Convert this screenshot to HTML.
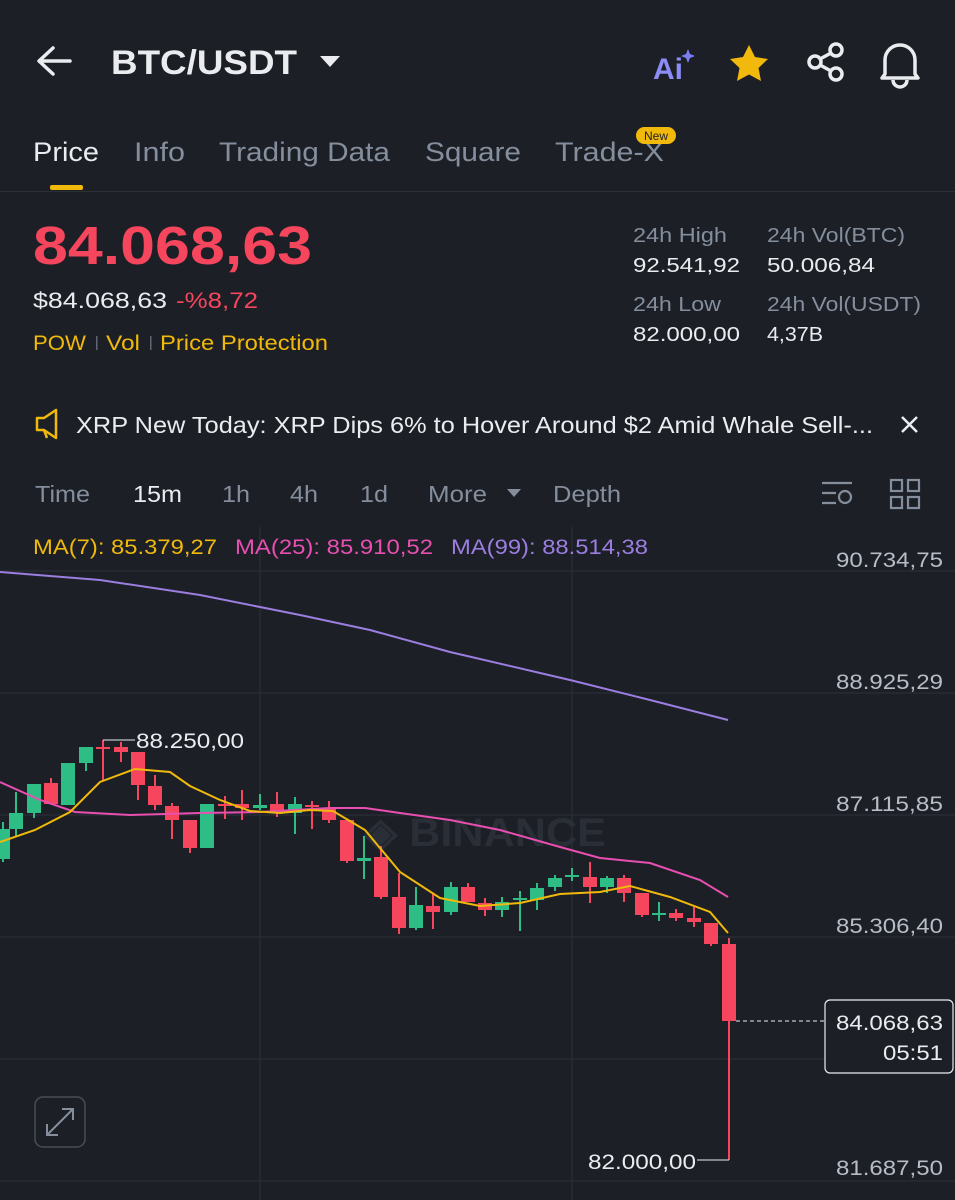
<!DOCTYPE html>
<html><head><meta charset="utf-8"><style>
html,body{margin:0;padding:0;background:#1c1f26;}
svg{display:block;font-family:"Liberation Sans",sans-serif;}
</style></head><body>
<svg width="955" height="1200" viewBox="0 0 955 1200" xmlns="http://www.w3.org/2000/svg">
<rect width="955" height="1200" fill="#1c1f26"/>
<!-- header -->
<path d="M70 61 H40 M53 48 L39 61 L53 74" stroke="#eaecef" stroke-width="3.5" fill="none" stroke-linecap="round" stroke-linejoin="round"/>
<text x="111" y="74" font-size="34" font-weight="bold" fill="#eaecef" textLength="186" lengthAdjust="spacingAndGlyphs">BTC/USDT</text>
<path d="M320 56 L340 56 L330 67 Z" fill="#eaecef"/>
<text x="653" y="79" font-size="30" font-weight="bold" fill="#8b8cf5">Ai</text>
<path d="M688 49 l2 5 5 2 -5 2 -2 5 -2 -5 -5 -2 5 -2z" fill="#7b7ef2"/>
<path d="M749 45 l6 12 13 2 -9.5 9 2.5 13 -12 -6.5 -12 6.5 2.5 -13 -9.5 -9 13 -2z" fill="#f0b90b"/>
<g stroke="#eaecef" stroke-width="3.5" fill="none"><circle cx="815" cy="62" r="6"/><circle cx="836" cy="50" r="6"/><circle cx="836" cy="74" r="6"/><path d="M820 59 L831 53 M820 65 L831 71"/></g>
<path d="M885 74 V60 a15 15 0 0 1 30 0 V74 l3 4 H882 z M893 80 a7 7 0 0 0 14 0" stroke="#eaecef" stroke-width="3.5" fill="none" stroke-linejoin="round"/>
<!-- tabs -->
<g font-size="27" lengthAdjust="spacingAndGlyphs">
<text x="33" y="161" fill="#eaecef" textLength="66" lengthAdjust="spacingAndGlyphs">Price</text>
<text x="134" y="161" fill="#848e9c" textLength="51" lengthAdjust="spacingAndGlyphs">Info</text>
<text x="219" y="161" fill="#848e9c" textLength="171" lengthAdjust="spacingAndGlyphs">Trading Data</text>
<text x="425" y="161" fill="#848e9c" textLength="96" lengthAdjust="spacingAndGlyphs">Square</text>
<text x="555" y="161" fill="#848e9c" textLength="109" lengthAdjust="spacingAndGlyphs">Trade-X</text>
</g>
<rect x="636" y="127" width="40" height="17" rx="8.5" fill="#f0b90b"/>
<text x="656" y="140" font-size="12" fill="#1c1f26" text-anchor="middle">New</text>
<rect x="50" y="185" width="33" height="5" rx="2" fill="#f0b90b"/>
<rect x="0" y="191" width="955" height="1" fill="#2b2f36"/>
<!-- price -->
<text x="33" y="264" font-size="54" font-weight="bold" fill="#f6465d" textLength="279" lengthAdjust="spacingAndGlyphs">84.068,63</text>
<text x="33" y="308" font-size="22" fill="#eaecef" textLength="134" lengthAdjust="spacingAndGlyphs">$84.068,63</text>
<text x="176" y="308" font-size="22" fill="#f6465d" textLength="82" lengthAdjust="spacingAndGlyphs">-%8,72</text>
<g font-size="21" fill="#f0b90b"><text x="33" y="350" textLength="53" lengthAdjust="spacingAndGlyphs">POW</text><text x="106" y="350" textLength="34" lengthAdjust="spacingAndGlyphs">Vol</text><text x="160" y="350" textLength="168" lengthAdjust="spacingAndGlyphs">Price Protection</text></g>
<rect x="96" y="336" width="1.5" height="14" fill="#5e6673"/><rect x="150" y="336" width="1.5" height="14" fill="#5e6673"/>
<g font-size="20">
<text x="633" y="242" fill="#848e9c" textLength="94" lengthAdjust="spacingAndGlyphs">24h High</text><text x="767" y="242" fill="#848e9c" textLength="138" lengthAdjust="spacingAndGlyphs">24h Vol(BTC)</text>
<text x="633" y="272" fill="#eaecef" textLength="107" lengthAdjust="spacingAndGlyphs">92.541,92</text><text x="767" y="272" fill="#eaecef" textLength="108" lengthAdjust="spacingAndGlyphs">50.006,84</text>
<text x="633" y="311" fill="#848e9c" textLength="88" lengthAdjust="spacingAndGlyphs">24h Low</text><text x="767" y="311" fill="#848e9c" textLength="154" lengthAdjust="spacingAndGlyphs">24h Vol(USDT)</text>
<text x="633" y="341" fill="#eaecef" textLength="107" lengthAdjust="spacingAndGlyphs">82.000,00</text><text x="767" y="341" fill="#eaecef" textLength="56" lengthAdjust="spacingAndGlyphs">4,37B</text>
</g>
<!-- news -->
<path d="M37 418 h7 l12 -8 v28 l-12 -8 h-7z M44 430 l3 8" stroke="#f0b90b" stroke-width="2.5" fill="none" stroke-linejoin="round"/>
<text x="76" y="433" font-size="23" fill="#eaecef" textLength="797" lengthAdjust="spacingAndGlyphs">XRP New Today: XRP Dips 6% to Hover Around $2 Amid Whale Sell-...</text>
<path d="M902 417 l15 15 M917 417 l-15 15" stroke="#eaecef" stroke-width="2.5"/>
<!-- intervals -->
<g font-size="23" fill="#848e9c">
<text x="35" y="502" textLength="55" lengthAdjust="spacingAndGlyphs">Time</text><text x="133" y="502" fill="#eaecef" textLength="49" lengthAdjust="spacingAndGlyphs">15m</text><text x="222" y="502" textLength="28" lengthAdjust="spacingAndGlyphs">1h</text><text x="290" y="502" textLength="28" lengthAdjust="spacingAndGlyphs">4h</text><text x="360" y="502" textLength="28" lengthAdjust="spacingAndGlyphs">1d</text><text x="428" y="502" textLength="59" lengthAdjust="spacingAndGlyphs">More</text><text x="553" y="502" textLength="68" lengthAdjust="spacingAndGlyphs">Depth</text>
</g>
<path d="M507 489 h14 l-7 8z" fill="#848e9c"/>
<g stroke="#848e9c" stroke-width="2.2" fill="none"><path d="M822 483 h30 M822 493 h14 M822 503 h14"/><circle cx="845" cy="497" r="6"/>
<rect x="891" y="480" width="11" height="11"/><rect x="908" y="480" width="11" height="11"/><rect x="891" y="497" width="11" height="11"/><rect x="908" y="497" width="11" height="11"/></g>
<!-- grid -->
<g stroke="#2b2f36" stroke-width="1.2">
<path d="M0 571 H955 M0 693 H955 M0 815 H955 M0 937 H955 M0 1059 H955 M0 1181 H955 M260 527 V1200 M572 527 V1200"/>
</g>
<text x="364" y="846" font-size="40" font-weight="bold" fill="#2a2e36" textLength="242" lengthAdjust="spacingAndGlyphs">◈ BINANCE</text>
<g font-size="21">
<text x="33" y="554" fill="#f0b90b" textLength="184" lengthAdjust="spacingAndGlyphs">MA(7): 85.379,27</text>
<text x="235" y="554" fill="#e84fb1" textLength="198" lengthAdjust="spacingAndGlyphs">MA(25): 85.910,52</text>
<text x="451" y="554" fill="#9b7ee0" textLength="197" lengthAdjust="spacingAndGlyphs">MA(99): 88.514,38</text>
</g>
<g font-size="21" fill="#b7bdc6">
<text x="836" y="567" textLength="107" lengthAdjust="spacingAndGlyphs">90.734,75</text><text x="836" y="689" textLength="107" lengthAdjust="spacingAndGlyphs">88.925,29</text><text x="836" y="811" textLength="107" lengthAdjust="spacingAndGlyphs">87.115,85</text><text x="836" y="933" textLength="107" lengthAdjust="spacingAndGlyphs">85.306,40</text><text x="836" y="1055" textLength="107" lengthAdjust="spacingAndGlyphs">83.416,95</text><text x="836" y="1175" textLength="107" lengthAdjust="spacingAndGlyphs">81.687,50</text>
</g>
<!-- MA99 -->
<polyline points="0,572 100,580 200,595 300,615 370,630 450,652 570,680 650,700 728,720" fill="none" stroke="#9b7ee0" stroke-width="2"/>
<!-- candles -->
<g fill="#2ebd85" stroke="#2ebd85" stroke-width="2">
<path d="M3 822V862 M16 792V836 M34 784V818 M68 763V805 M86 747V771 M207 804V848 M260 794V810 M295 797V834 M364 836V879 M416 887V930 M451 882V915 M502 897V917 M520 891V931 M537 883V910 M555 875V891 M572 868V881 M607 876V893 M659 902V921"/>
</g>
<g fill="#2ebd85">
<rect x="-4" y="829" width="14" height="30"/><rect x="9" y="813" width="14" height="16"/><rect x="27" y="784" width="14" height="29"/><rect x="61" y="763" width="14" height="42"/><rect x="79" y="747" width="14" height="16"/><rect x="200" y="804" width="14" height="44"/><rect x="253" y="805" width="14" height="3"/><rect x="288" y="804" width="14" height="9"/><rect x="357" y="858" width="14" height="3"/><rect x="409" y="905" width="14" height="23"/><rect x="444" y="887" width="14" height="25"/><rect x="495" y="902" width="14" height="8"/><rect x="513" y="898" width="14" height="2"/><rect x="530" y="888" width="14" height="12"/><rect x="548" y="878" width="14" height="9"/><rect x="565" y="875" width="14" height="2"/><rect x="600" y="878" width="14" height="9"/><rect x="652" y="913" width="14" height="2"/>
</g>
<g stroke="#f6465d" stroke-width="2">
<path d="M51 778V804 M103 740V780 M121 742V762 M138 752V800 M155 775V810 M172 803V839 M190 820V853 M225 796V819 M242 790V820 M277 792V817 M312 801V829 M329 801V823 M347 820V863 M381 846V899 M399 873V934 M433 893V929 M468 883V902 M485 898V916 M590 862V903 M624 875V902 M642 893V917 M676 909V921 M694 907V927 M711 923V946 M729 938V1160"/>
</g>
<g fill="#f6465d">
<rect x="44" y="783" width="14" height="21"/><rect x="96" y="747" width="14" height="2"/><rect x="114" y="747" width="14" height="5"/><rect x="131" y="752" width="14" height="33"/><rect x="148" y="786" width="14" height="19"/><rect x="165" y="806" width="14" height="14"/><rect x="183" y="820" width="14" height="28"/><rect x="218" y="804" width="14" height="2"/><rect x="235" y="804" width="14" height="4"/><rect x="270" y="804" width="14" height="9"/><rect x="305" y="805" width="14" height="2"/><rect x="322" y="808" width="14" height="12"/><rect x="340" y="820" width="14" height="41"/><rect x="374" y="857" width="14" height="40"/><rect x="392" y="897" width="14" height="31"/><rect x="426" y="906" width="14" height="6"/><rect x="461" y="887" width="14" height="15"/><rect x="478" y="903" width="14" height="7"/><rect x="583" y="877" width="14" height="10"/><rect x="617" y="878" width="14" height="15"/><rect x="635" y="893" width="14" height="22"/><rect x="669" y="913" width="14" height="5"/><rect x="687" y="918" width="14" height="4"/><rect x="704" y="923" width="14" height="21"/><rect x="722" y="944" width="14" height="77"/>
</g>
<!-- MA25 -->
<polyline points="0,782 40,800 75,812 130,815 200,813 260,812 330,808 365,808 400,813 450,820 500,830 560,847 600,858 650,863 700,880 728,897" fill="none" stroke="#e84fb1" stroke-width="2"/>
<!-- MA7 -->
<polyline points="0,842 35,830 70,812 100,782 135,769 170,772 190,786 220,800 250,811 280,813 310,810 333,811 365,830 400,872 440,898 480,906 520,903 560,894 600,892 630,886 670,897 710,912 728,933" fill="none" stroke="#f0b90b" stroke-width="2"/>
<!-- labels -->
<path d="M103 740 H135" stroke="#eaecef" stroke-width="1"/>
<text x="136" y="748" font-size="21" fill="#eaecef" textLength="108" lengthAdjust="spacingAndGlyphs">88.250,00</text>
<path d="M697 1160 H729" stroke="#eaecef" stroke-width="1"/>
<text x="588" y="1169" font-size="21" fill="#eaecef" textLength="108" lengthAdjust="spacingAndGlyphs">82.000,00</text>
<path d="M736 1021 H825" stroke="#eaecef" stroke-width="1" stroke-dasharray="4 3"/>
<rect x="825" y="1000" width="128" height="73" rx="5" fill="#1c1f26" stroke="#eaecef" stroke-width="1.2"/>
<text x="836" y="1030" font-size="21" fill="#eaecef" textLength="107" lengthAdjust="spacingAndGlyphs">84.068,63</text>
<text x="883" y="1060" font-size="21" fill="#eaecef" textLength="60" lengthAdjust="spacingAndGlyphs">05:51</text>
<rect x="35" y="1097" width="50" height="50" rx="8" fill="none" stroke="#474d57" stroke-width="1.5"/>
<path d="M47 1135 L73 1109 M62 1109 H73 V1120 M47 1124 V1135 H58" stroke="#848e9c" stroke-width="2" fill="none"/>
</svg>
</body></html>
